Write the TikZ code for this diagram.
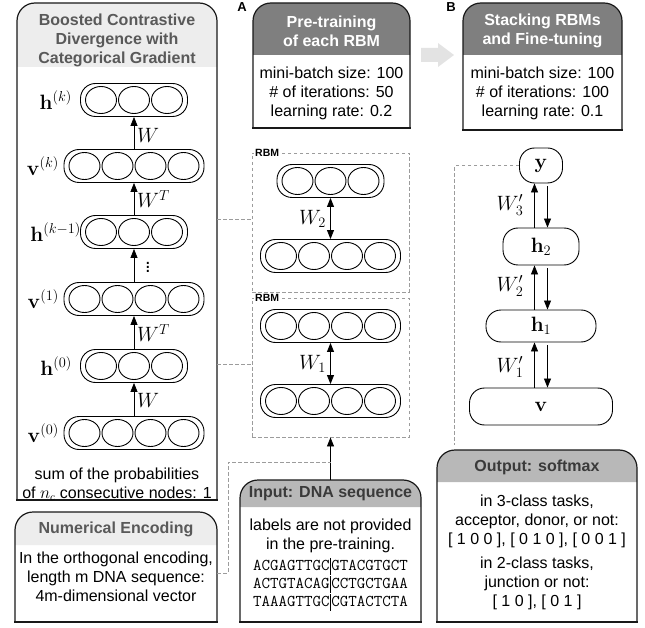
\documentclass[tikz,border=0pt]{standalone}
\usepackage[no-math]{fontspec}
\setmainfont{Liberation Sans}
\usetikzlibrary{arrows.meta,fit,shapes.geometric,calc}
\definecolor{hdrlight}{HTML}{EDEDED}
\definecolor{hdrtxt}{HTML}{595959}
\definecolor{hdrdark}{HTML}{7F7F7F}
\definecolor{hdrmid}{HTML}{B8B8B8}
\definecolor{midtxt}{HTML}{3A3A3A}
\definecolor{dashgray}{HTML}{9C9C9C}
\definecolor{arrowgray}{HTML}{E3E3E3}
\newcommand\txtsize{\fontsize{16}{19}\selectfont}
\newcommand\mathsz{\fontsize{20}{24}\selectfont}
\newcommand\sepbar{\kern0.5pt\vrule width 0.6pt height 12.5pt depth 4.5pt\kern0.5pt}
\tikzset{
 panel/.style={line width=1.2pt, line cap=rect, draw=black!90},
 pill/.style={draw, line width=0.9pt, rounded corners=15, minimum height=33, inner sep=0},
 unit/.style={draw, ellipse, line width=0.9pt, minimum width=31, minimum height=27, inner sep=0},
 lbl/.style={inner sep=0, font=\mathsz},
 ttl/.style={font=\txtsize\bfseries, align=center, inner sep=0},
 body/.style={font=\txtsize, align=center, inner sep=0},
 uparrow/.style={-{Triangle[length=9pt,width=7pt]}, line width=0.8pt},
 dblarrow/.style={{Triangle[length=9pt,width=7pt]}-{Triangle[length=9pt,width=7pt]}, line width=0.8pt},
 rbmbox/.style={draw=dashgray, dash pattern=on 3.5pt off 2.5pt, line width=0.8pt, inner sep=0},
 dashline/.style={draw=dashgray, dash pattern=on 3.5pt off 2.5pt, line width=0.8pt},
 rnode/.style={draw, rounded corners=15, line width=0.9pt, font=\mathsz, inner sep=0},
 rbmlbl/.style={font=\fontsize{10.5}{12}\selectfont\bfseries, fill=white, inner sep=1pt, anchor=west},
 letter/.style={font=\fontsize{13}{15}\selectfont\bfseries, inner sep=0}
}
% name, x1, y1, x2, y2, y header bottom, header colour
\newcommand\mypanel[7]{%
 \fill[white, rounded corners=18] (#2,#5) -- (#2,#3) -- (#4,#3) -- (#4,#5);
 \fill[#7, rounded corners=18] (#2,#6) -- (#2,#3) -- (#4,#3) -- (#4,#6);
 \draw[panel, rounded corners=18] (#2,#5) -- (#2,#3) -- (#4,#3) -- (#4,#5);
 \draw[panel] (#2,#5) -- (#4,#5);
 \coordinate (#1-nw) at (#2,#3);
 \coordinate (#1-se) at (#4,#5);
 \node[inner sep=0, fit=(#1-nw)(#1-se)] (#1) {};
}
\newcommand\threepill[3]{%
 \node[pill, minimum width=107] (#1) at (#2,#3) {};
 \foreach \k in {1,2,3} \node[unit] (#1u\k) at ({#2+(\k-2)*33},#3) {};
}
\newcommand\fourpill[3]{%
 \node[pill, minimum width=140] (#1) at (#2,#3) {};
 \foreach \k in {1,2,3,4} \node[unit] (#1u\k) at ({#2+(\k-2.5)*33},#3) {};
}
\begin{document}
\begin{tikzpicture}[x=1pt,y=-1pt]
\useasboundingbox (0,0) rectangle (645,628);
% ---------- left panel
\mypanel{bcd}{17}{3}{217}{500}{67}{hdrlight}
\node[ttl, text=hdrtxt] (bcdtitle) at (117,40) {Boosted Contrastive\\Divergence with\\Categorical Gradient};
\threepill{hk}{134}{100}
\fourpill{vk}{134}{166}
\threepill{hkm}{134}{232}
\fourpill{vone}{134}{299}
\threepill{hzero}{134}{366}
\fourpill{vzero}{134}{433}
\node[lbl, anchor=east] (lhk) at (72,100) {$\mathbf{h}^{(k)}$};
\node[lbl, anchor=east] (lvk) at (59,166) {$\mathbf{v}^{(k)}$};
\node[lbl, anchor=east] (lhkm) at (81,232) {$\mathbf{h}^{(k-1)}$};
\node[lbl, anchor=east] (lvone) at (59,299) {$\mathbf{v}^{(1)}$};
\node[lbl, anchor=east] (lhzero) at (72,366) {$\mathbf{h}^{(0)}$};
\node[lbl, anchor=east] (lvzero) at (59,433) {$\mathbf{v}^{(0)}$};
\draw[uparrow] (vk.north) -- (hk.south);
\draw[uparrow] (hkm.north) -- (vk.south);
\draw[uparrow] (vone.north) -- (hkm.south);
\draw[uparrow] (hzero.north) -- (vone.south);
\draw[uparrow] (vzero.north) -- (hzero.south);
\node[lbl, anchor=west] (wa) at (137,135) {$W$};
\node[lbl, anchor=west] (wb) at (137,199) {$W^T$};
\node[lbl] (dots) at (148,264) {$\vdots$};
\node[lbl, anchor=west] (wc) at (137,333) {$W^T$};
\node[lbl, anchor=west] (wd) at (137,400) {$W$};
\node[body] (sumtxt) at (117,484) {sum of the probabilities\\of $n_{c}$ consecutive nodes: 1};
% ---------- numerical encoding
\mypanel{ne}{15}{512}{217}{622}{545}{hdrlight}
\node[ttl, text=hdrtxt] (netitle) at (116,529) {Numerical Encoding};
\node[body] (nebody) at (116,577) {In the orthogonal encoding,\\length m DNA sequence:\\4m-dimensional vector};
% ---------- A panel
\node[letter] (lA) at (242,7) {A};
\mypanel{pt}{253}{3}{410}{128}{55}{hdrdark}
\node[ttl, text=white] (pttitle) at (331.5,31) {Pre-training\\of each RBM};
\node[body] (ptbody) at (331.5,93) {mini-batch size: 100\\\# of iterations: 50\\learning rate: 0.2};
% grey arrow
\fill[arrowgray] (421,48) -- (438,48) -- (438,43) -- (454,55) -- (438,67) -- (438,62) -- (421,62) -- cycle;
% ---------- B panel
\node[letter] (lB) at (451,7) {B};
\mypanel{st}{463}{3}{622}{130}{55}{hdrdark}
\node[ttl, text=white] (sttitle) at (542.5,31) {Stacking RBMs\\and Fine-tuning};
\node[body] (stbody) at (542.5,93) {mini-batch size: 100\\\# of iterations: 100\\learning rate: 0.1};
% ---------- RBMs
\node[rbmbox, minimum width=157, minimum height=139] (rbm1) at (330.5,222.5) {};
\node[rbmbox, minimum width=157, minimum height=139] (rbm2) at (330.5,367.5) {};
\node[rbmlbl] (rbm1lbl) at (254,153) {RBM};
\node[rbmlbl] (rbm2lbl) at (254,298) {RBM};
\threepill{ra}{330.5}{181}
\fourpill{rb}{330.5}{256}
\fourpill{rc}{330.5}{326}
\fourpill{rd}{330.5}{401}
\draw[dblarrow] (ra.south) -- (rb.north);
\draw[dblarrow] (rc.south) -- (rd.north);
\node[lbl, anchor=east] (w2) at (326,219) {$W_2$};
\node[lbl, anchor=east] (w1) at (326,364) {$W_1$};
% ---------- input
\mypanel{in}{240}{480}{421}{622}{507}{hdrmid}
\node[ttl, text=midtxt] (intitle) at (330.5,494) {Input: DNA sequence};
\node[body] (inbody) at (330.5,536) {labels are not provided\\in the pre-training.};
\node[font=\fontsize{16.5}{18}\selectfont\ttfamily, align=center, inner sep=0] (seq) at (330.5,584)
 {ACGAGTTGC\sepbar GTACGTGCT\\ACTGTACAG\sepbar CCTGCTGAA\\TAAAGTTGC\sepbar CGTACTCTA};
\draw[uparrow] (in.north) -- (rbm2.south);
\coordinate (tap) at (330.5,462);
% ---------- right network
\node[rnode, minimum width=43, minimum height=35] (ynode) at (541,165.5) {$\mathbf{y}$};
\node[rnode, minimum width=76, minimum height=37] (h2) at (541,246.5) {$\mathbf{h}_2$};
\node[rnode, minimum width=110, minimum height=32] (h1) at (541,326) {$\mathbf{h}_1$};
\node[rnode, minimum width=143, minimum height=37] (vnode) at (541,406.5) {$\mathbf{v}$};
\draw[uparrow] ([xshift=-6.5pt]h2.north) -- ([xshift=-6.5pt]ynode.south);
\draw[uparrow, shorten <=3pt] ([xshift=6.5pt]ynode.south) -- ([xshift=6.5pt]h2.north);
\draw[uparrow] ([xshift=-6.5pt]h1.north) -- ([xshift=-6.5pt]h2.south);
\draw[uparrow, shorten <=3pt] ([xshift=6.5pt]h2.south) -- ([xshift=6.5pt]h1.north);
\draw[uparrow] ([xshift=-6.5pt]vnode.north) -- ([xshift=-6.5pt]h1.south);
\draw[uparrow, shorten <=3pt] ([xshift=6.5pt]h1.south) -- ([xshift=6.5pt]vnode.north);
\node[lbl] (w3p) at (510,205) {$W'_3$};
\node[lbl] (w2p) at (510,286) {$W'_2$};
\node[lbl] (w1p) at (510,367) {$W'_1$};
% ---------- output
\mypanel{out}{437}{450}{637}{622}{482}{hdrmid}
\node[ttl, text=midtxt] (outtitle) at (537,467) {Output: softmax};
\node[body] (outa) at (537,521) {in 3-class tasks,\\acceptor, donor, or not:\\{[} 1 0 0 ], [ 0 1 0 ], [ 0 0 1 ]};
\node[body] (outb) at (537,583) {in 2-class tasks,\\junction or not:\\{[} 1 0 ], [ 0 1 ]};
% ---------- dashed connectors
\draw[dashline] (bcd.east |- w2) -- (rbm1.west |- w2);
\draw[dashline] (bcd.east |- w1) -- (rbm2.west |- w1);
\draw[dashline] ([yshift=-6pt]ne.east) -| (228,462) -- (tap);
\draw[dashline] (ynode.west) -| ($(out.north west)+(18,-5)$);
\end{tikzpicture}
\end{document}
